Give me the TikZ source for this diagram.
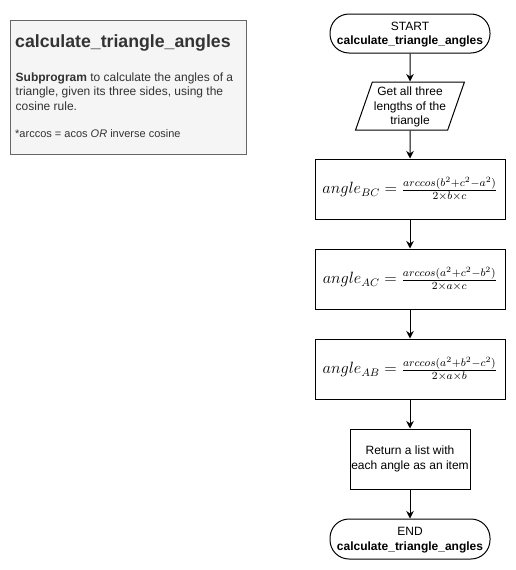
\documentclass[tikz,border=0pt]{standalone}
\usepackage{graphicx}
\usepackage{fontspec}
\setsansfont{Liberation Sans}
\usetikzlibrary{shapes.geometric,arrows.meta}

\definecolor{notefill}{HTML}{F5F5F5}
\definecolor{noteline}{HTML}{666666}
\definecolor{notetext}{HTML}{333333}

\tikzset{
  terminal/.style = {draw, line width=1pt, rounded corners=19pt, align=center, text depth=-1pt,
                     minimum width=160pt, minimum height=39pt, inner sep=0pt},
  inputbox/.style = {draw, line width=1pt, trapezium, trapezium stretches=true,
                     trapezium left angle=67, trapezium right angle=113, text depth=-2.5pt,
                     align=center, minimum width=109pt, minimum height=48pt, inner sep=0pt},
  calcbox/.style  = {draw, line width=1pt, minimum width=190pt, minimum height=60pt, inner sep=0pt},
  stepbox/.style  = {draw, line width=1pt, align=center, minimum width=120pt, minimum height=60pt, inner sep=0pt},
  flow/.style     = {line width=1pt, -{Stealth[length=7.5pt, width=7.5pt]}}
}

\begin{document}
\begin{tikzpicture}[x=1pt, y=-1pt, font=\sffamily\fontsize{12}{14.5}\selectfont]
        \useasboundingbox (0,0) rectangle (516,570);

        %% description note
        \node[draw=noteline, fill=notefill, line width=1pt, minimum width=236pt,
              minimum height=134pt, inner sep=0pt] (note) at (128.5,87) {};
        \node[anchor=west, inner sep=0pt, text=notetext,
              font=\sffamily\bfseries\fontsize{17.7}{20}\selectfont] (title) at (15,43)
              {calculate\_triangle\_angles};
        \node[anchor=west, inner sep=0pt, text=notetext, align=left] (desc) at (15.5,91.5)
              {\textbf{Subprogram} to calculate the angles of a\\
               triangle, given its three sides, using the\\
               cosine rule.};
        \node[anchor=west, inner sep=0pt, text=notetext,
              font=\sffamily\fontsize{11}{13}\selectfont] (hint) at (15,134)
              {*arccos = acos \textit{OR} inverse cosine};

        %% flowchart
        \node[terminal] (start) at (410,33.5) {START\\\textbf{calculate\_triangle\_angles}};
        \node[inputbox] (input) at (410,106) {Get all three\\lengths of the\\triangle};

        \node[calcbox] (bc) at (410,189)
             {\scalebox{1.36}{$angle_{BC} = \frac{arccos(b^2+c^2-a^2)}{2\times b\times c}$}};
        \node[calcbox] (ac) at (410,279)
             {\scalebox{1.36}{$angle_{AC} = \frac{arccos(a^2+c^2-b^2)}{2\times a\times c}$}};
        \node[calcbox] (ab) at (410,369)
             {\scalebox{1.36}{$angle_{AB} = \frac{arccos(a^2+b^2-c^2)}{2\times a\times b}$}};

        \node[stepbox] (ret) at (410,459) {Return a list with\\each angle as an item};
        \node[terminal, minimum height=40pt] (stop) at (410,539) {END\\\textbf{calculate\_triangle\_angles}};

        %% connectors
        \foreach \a/\b in {start/input, input/bc, bc/ac, ac/ab, ab/ret, ret/stop} {
          \draw[flow] (\a.south) -- (\b.north); }

\end{tikzpicture}
\end{document}
